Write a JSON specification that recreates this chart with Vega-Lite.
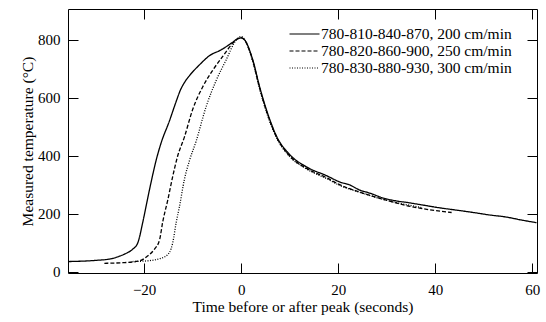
{
  "$schema": "https://vega.github.io/schema/vega-lite/v6.json",
  "width": 469,
  "height": 264,
  "autosize": {"type": "none"},
  "padding": {"left": 68, "top": 9, "right": 9, "bottom": 49},
  "background": "white",
  "config": {
    "view": {"stroke": "black", "strokeWidth": 1},
    "font": "Liberation Serif",
    "axis": {
      "grid": false,
      "domain": false,
      "tickColor": "black",
      "tickWidth": 1,
      "labelFont": "Liberation Serif",
      "labelFontSize": 15,
      "labelColor": "black",
      "titleFont": "Liberation Serif",
      "titleFontSize": 15.5,
      "titleFontWeight": "normal",
      "titleColor": "black"
    },
    "legend": {
      "labelFont": "Liberation Serif",
      "labelFontSize": 15.5,
      "labelColor": "black",
      "labelLimit": 0
    }
  },
  "data": {
    "values": [
      {"series": "780-810-840-870, 200 cm/min", "t": -35.5, "temp": 36},
      {"series": "780-810-840-870, 200 cm/min", "t": -30, "temp": 40},
      {"series": "780-810-840-870, 200 cm/min", "t": -27, "temp": 45},
      {"series": "780-810-840-870, 200 cm/min", "t": -25, "temp": 55},
      {"series": "780-810-840-870, 200 cm/min", "t": -23.5, "temp": 66},
      {"series": "780-810-840-870, 200 cm/min", "t": -22.4, "temp": 78},
      {"series": "780-810-840-870, 200 cm/min", "t": -21.3, "temp": 101},
      {"series": "780-810-840-870, 200 cm/min", "t": -20.3, "temp": 170},
      {"series": "780-810-840-870, 200 cm/min", "t": -19.6, "temp": 227},
      {"series": "780-810-840-870, 200 cm/min", "t": -18.6, "temp": 307},
      {"series": "780-810-840-870, 200 cm/min", "t": -17.5, "temp": 387},
      {"series": "780-810-840-870, 200 cm/min", "t": -16.5, "temp": 445},
      {"series": "780-810-840-870, 200 cm/min", "t": -14.8, "temp": 520},
      {"series": "780-810-840-870, 200 cm/min", "t": -13.5, "temp": 583},
      {"series": "780-810-840-870, 200 cm/min", "t": -12.5, "temp": 628},
      {"series": "780-810-840-870, 200 cm/min", "t": -11.5, "temp": 658},
      {"series": "780-810-840-870, 200 cm/min", "t": -10.6, "temp": 678},
      {"series": "780-810-840-870, 200 cm/min", "t": -8.6, "temp": 714},
      {"series": "780-810-840-870, 200 cm/min", "t": -6.5, "temp": 746},
      {"series": "780-810-840-870, 200 cm/min", "t": -4.1, "temp": 766},
      {"series": "780-810-840-870, 200 cm/min", "t": -2.0, "temp": 789},
      {"series": "780-810-840-870, 200 cm/min", "t": -0.7, "temp": 804},
      {"series": "780-810-840-870, 200 cm/min", "t": 0, "temp": 807},
      {"series": "780-810-840-870, 200 cm/min", "t": 0.7, "temp": 800},
      {"series": "780-810-840-870, 200 cm/min", "t": 2.4, "temp": 731},
      {"series": "780-810-840-870, 200 cm/min", "t": 3.8, "temp": 639},
      {"series": "780-810-840-870, 200 cm/min", "t": 5.2, "temp": 560},
      {"series": "780-810-840-870, 200 cm/min", "t": 7.3, "temp": 468},
      {"series": "780-810-840-870, 200 cm/min", "t": 10.0, "temp": 405},
      {"series": "780-810-840-870, 200 cm/min", "t": 13.5, "temp": 362},
      {"series": "780-810-840-870, 200 cm/min", "t": 17.6, "temp": 332},
      {"series": "780-810-840-870, 200 cm/min", "t": 20.4, "temp": 310},
      {"series": "780-810-840-870, 200 cm/min", "t": 22.4, "temp": 300},
      {"series": "780-810-840-870, 200 cm/min", "t": 24.5, "temp": 282},
      {"series": "780-810-840-870, 200 cm/min", "t": 26.5, "temp": 272},
      {"series": "780-810-840-870, 200 cm/min", "t": 29.3, "temp": 255},
      {"series": "780-810-840-870, 200 cm/min", "t": 32, "temp": 245},
      {"series": "780-810-840-870, 200 cm/min", "t": 34.1, "temp": 240},
      {"series": "780-810-840-870, 200 cm/min", "t": 37, "temp": 232},
      {"series": "780-810-840-870, 200 cm/min", "t": 41.0, "temp": 221},
      {"series": "780-810-840-870, 200 cm/min", "t": 44.5, "temp": 213},
      {"series": "780-810-840-870, 200 cm/min", "t": 47.9, "temp": 205},
      {"series": "780-810-840-870, 200 cm/min", "t": 51, "temp": 197},
      {"series": "780-810-840-870, 200 cm/min", "t": 54.8, "temp": 189},
      {"series": "780-810-840-870, 200 cm/min", "t": 57.5, "temp": 180},
      {"series": "780-810-840-870, 200 cm/min", "t": 60.9, "temp": 170},
      {"series": "780-820-860-900, 250 cm/min", "t": -28.2, "temp": 30},
      {"series": "780-820-860-900, 250 cm/min", "t": -24.4, "temp": 32},
      {"series": "780-820-860-900, 250 cm/min", "t": -21, "temp": 38},
      {"series": "780-820-860-900, 250 cm/min", "t": -19.3, "temp": 55},
      {"series": "780-820-860-900, 250 cm/min", "t": -17.9, "temp": 78},
      {"series": "780-820-860-900, 250 cm/min", "t": -16.8, "temp": 112},
      {"series": "780-820-860-900, 250 cm/min", "t": -16.2, "temp": 170},
      {"series": "780-820-860-900, 250 cm/min", "t": -15.1, "temp": 250},
      {"series": "780-820-860-900, 250 cm/min", "t": -14.1, "temp": 330},
      {"series": "780-820-860-900, 250 cm/min", "t": -13.1, "temp": 399},
      {"series": "780-820-860-900, 250 cm/min", "t": -11.7, "temp": 465},
      {"series": "780-820-860-900, 250 cm/min", "t": -10, "temp": 560},
      {"series": "780-820-860-900, 250 cm/min", "t": -7.9, "temp": 639},
      {"series": "780-820-860-900, 250 cm/min", "t": -5.8, "temp": 697},
      {"series": "780-820-860-900, 250 cm/min", "t": -3.8, "temp": 743},
      {"series": "780-820-860-900, 250 cm/min", "t": -1.7, "temp": 789},
      {"series": "780-820-860-900, 250 cm/min", "t": -0.5, "temp": 806},
      {"series": "780-820-860-900, 250 cm/min", "t": 0, "temp": 808},
      {"series": "780-820-860-900, 250 cm/min", "t": 0.7, "temp": 800},
      {"series": "780-820-860-900, 250 cm/min", "t": 2.4, "temp": 728},
      {"series": "780-820-860-900, 250 cm/min", "t": 3.8, "temp": 635},
      {"series": "780-820-860-900, 250 cm/min", "t": 5.2, "temp": 556},
      {"series": "780-820-860-900, 250 cm/min", "t": 7.3, "temp": 465},
      {"series": "780-820-860-900, 250 cm/min", "t": 10, "temp": 400},
      {"series": "780-820-860-900, 250 cm/min", "t": 13.5, "temp": 357},
      {"series": "780-820-860-900, 250 cm/min", "t": 17.6, "temp": 325},
      {"series": "780-820-860-900, 250 cm/min", "t": 20.4, "temp": 300},
      {"series": "780-820-860-900, 250 cm/min", "t": 24, "temp": 278},
      {"series": "780-820-860-900, 250 cm/min", "t": 27.2, "temp": 261},
      {"series": "780-820-860-900, 250 cm/min", "t": 30.5, "temp": 245},
      {"series": "780-820-860-900, 250 cm/min", "t": 34.1, "temp": 229},
      {"series": "780-820-860-900, 250 cm/min", "t": 38.3, "temp": 216},
      {"series": "780-820-860-900, 250 cm/min", "t": 43.4, "temp": 205},
      {"series": "780-830-880-930, 300 cm/min", "t": -22.4, "temp": 36},
      {"series": "780-830-880-930, 300 cm/min", "t": -19.6, "temp": 38},
      {"series": "780-830-880-930, 300 cm/min", "t": -16.2, "temp": 49},
      {"series": "780-830-880-930, 300 cm/min", "t": -14.8, "temp": 67},
      {"series": "780-830-880-930, 300 cm/min", "t": -14.1, "temp": 101},
      {"series": "780-830-880-930, 300 cm/min", "t": -13.4, "temp": 170},
      {"series": "780-830-880-930, 300 cm/min", "t": -12.7, "temp": 227},
      {"series": "780-830-880-930, 300 cm/min", "t": -11.7, "temp": 319},
      {"series": "780-830-880-930, 300 cm/min", "t": -10.6, "temp": 387},
      {"series": "780-830-880-930, 300 cm/min", "t": -9.3, "temp": 450},
      {"series": "780-830-880-930, 300 cm/min", "t": -7.2, "temp": 571},
      {"series": "780-830-880-930, 300 cm/min", "t": -5.1, "temp": 662},
      {"series": "780-830-880-930, 300 cm/min", "t": -3.1, "temp": 731},
      {"series": "780-830-880-930, 300 cm/min", "t": -1.0, "temp": 800},
      {"series": "780-830-880-930, 300 cm/min", "t": 0, "temp": 812},
      {"series": "780-830-880-930, 300 cm/min", "t": 0.7, "temp": 802},
      {"series": "780-830-880-930, 300 cm/min", "t": 2.4, "temp": 725},
      {"series": "780-830-880-930, 300 cm/min", "t": 3.8, "temp": 632},
      {"series": "780-830-880-930, 300 cm/min", "t": 5.2, "temp": 552},
      {"series": "780-830-880-930, 300 cm/min", "t": 7.3, "temp": 462},
      {"series": "780-830-880-930, 300 cm/min", "t": 10, "temp": 398},
      {"series": "780-830-880-930, 300 cm/min", "t": 13.5, "temp": 355},
      {"series": "780-830-880-930, 300 cm/min", "t": 17.6, "temp": 322},
      {"series": "780-830-880-930, 300 cm/min", "t": 20.4, "temp": 298},
      {"series": "780-830-880-930, 300 cm/min", "t": 24, "temp": 277},
      {"series": "780-830-880-930, 300 cm/min", "t": 27.2, "temp": 260},
      {"series": "780-830-880-930, 300 cm/min", "t": 30.5, "temp": 245},
      {"series": "780-830-880-930, 300 cm/min", "t": 34.1, "temp": 232},
      {"series": "780-830-880-930, 300 cm/min", "t": 37.5, "temp": 221}
    ]
  },
  "layer": [
    {
      "mark": {"type": "line", "color": "black", "strokeWidth": 1.3, "clip": true, "interpolate": "monotone"},
      "encoding": {
        "x": {
          "field": "t", "type": "quantitative",
          "scale": {"domain": [-35.7, 61], "nice": false, "zero": false},
          "axis": {"values": [-20, 0, 20, 40, 60], "tickSize": -10, "labelPadding": 19, "title": "Time before or after peak (seconds)", "titlePadding": 2}
        },
        "y": {
          "field": "temp", "type": "quantitative",
          "scale": {"domain": [-3.5, 906.6], "nice": false, "zero": false},
          "axis": {"values": [0, 200, 400, 600, 800], "tickSize": -10, "labelPadding": 18, "title": "Measured temperature (°C)", "titlePadding": 2}
        },
        "strokeDash": {
          "field": "series", "type": "nominal",
          "scale": {
            "domain": ["780-810-840-870, 200 cm/min", "780-820-860-900, 250 cm/min", "780-830-880-930, 300 cm/min"],
            "range": [[1, 0], [4, 2], [1, 1.5]]
          },
          "legend": {
            "title": null,
            "orient": "none",
            "legendX": 228,
            "legendY": 16.5,
            "padding": 0,
            "symbolType": "M-2,0H2",
            "symbolSize": 225,
            "symbolStrokeColor": "black",
            "symbolFillColor": "transparent",
            "symbolStrokeWidth": 1.2,
            "labelOffset": 8,
            "rowPadding": -0.5
          }
        },
        "detail": {"field": "series"}
      }
    },
    {
      "mark": {"type": "point", "opacity": 0},
      "encoding": {
        "x": {
          "field": "t", "type": "quantitative",
          "axis": {"orient": "top", "values": [-20, 0, 20, 40, 60], "tickSize": -10, "labels": false, "title": null}
        },
        "y": {
          "field": "temp", "type": "quantitative",
          "axis": {"orient": "right", "values": [0, 200, 400, 600, 800], "tickSize": -10, "labels": false, "title": null}
        }
      }
    }
  ],
  "resolve": {"axis": {"x": "independent", "y": "independent"}}
}
